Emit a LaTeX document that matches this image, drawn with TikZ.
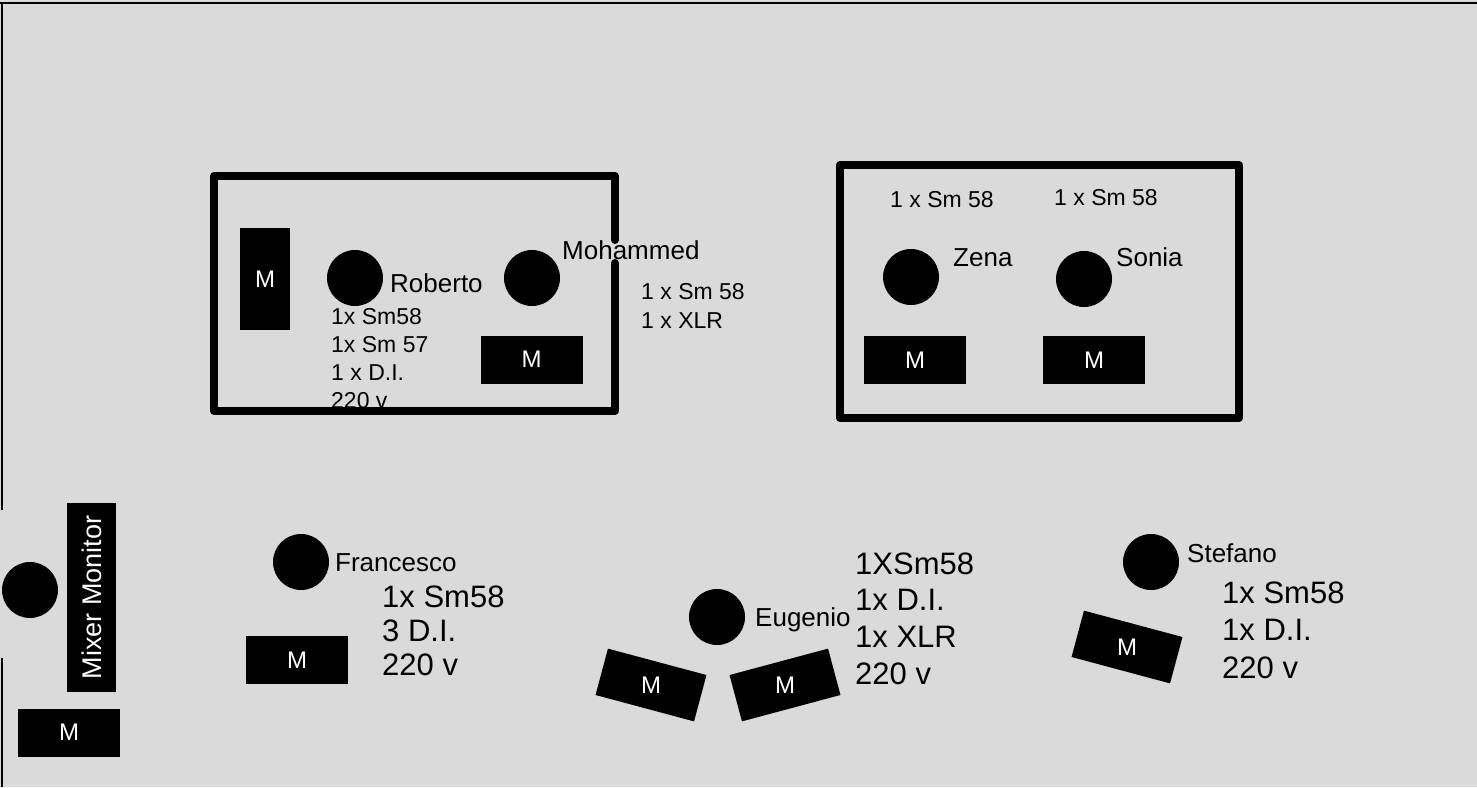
\documentclass[tikz,border=0pt]{standalone}
\usepackage{fontspec}
\setmainfont{Liberation Sans}
\usepackage{tikz}
\definecolor{fondo}{RGB}{218,218,218}

\begin{document}
\begin{tikzpicture}[x=1pt,y=-1pt,
	muro/.style={line width=8pt, line cap=round, line join=round},
	persona/.style={circle, fill=black, minimum size=56pt, inner sep=0pt},
	scatola/.style={fill=black, inner sep=0pt, minimum width=102pt, minimum height=48pt},
	monitor/.style={scatola, text=white, font=\fontsize{24}{28}\selectfont},
	lettera/.style={text=white, inner sep=0pt, font=\fontsize{24}{28}\selectfont},
	piccolo/.style={anchor=west, inner sep=0pt, text height=16.5pt, text depth=0pt, font=\fontsize{23}{27}\selectfont},
	medio/.style={anchor=west, inner sep=0pt, text height=18.6pt, text depth=0pt, font=\fontsize{26}{30}\selectfont},
	grande/.style={anchor=west, inner sep=0pt, text height=22.2pt, text depth=0pt, font=\fontsize{31}{36}\selectfont}]
		%Fondo e cornice
		\fill [fondo] (0,0) rectangle (1477,787);
		\useasboundingbox (0,0) rectangle (1477,787);
		\draw [line width=2.5pt] (0,3) -- (1477,3);
		\draw [line width=2.5pt] (2,3) -- (2,510) (2,658) -- (2,787);
		%Sala 1
		\node [monitor, minimum width=50pt, minimum height=102pt] (mrob) at (265,279) {M};
		\node [persona] (rob) at (355,278) {};
		\node [medio] (trob) at (390,283) {Roberto};
		\foreach \t [count=\i] in {1x Sm58,1x Sm 57,1 x D.I.,220 v}
			\node [piccolo] (rob\i) at (331,{316+28*(\i-1)}) {\t};
		\node [persona] (moh) at (532,278) {};
		\node [medio] (tmoh) at (562,250) {Mohammed};
		\node [monitor] (mmoh) at (531.5,359.5) {M};
		\node [piccolo] (moh1) at (641,291) {1 x Sm 58};
		\node [piccolo] (moh2) at (641,320) {1 x XLR};
		\draw [muro] (615,240) -- (615,176) -- (214,176) -- (214,411) -- (615,411) -- (615,263);
		%Sala 2
		\draw [muro] (840,165) rectangle (1239,418);
		\node [piccolo] (zen1) at (890,199) {1 x Sm 58};
		\node [piccolo] (son1) at (1054,197) {1 x Sm 58};
		\node [persona] (zen) at (911,277) {};
		\node [medio] (tzen) at (953,257) {Zena};
		\node [persona] (son) at (1084,279) {};
		\node [medio] (tson) at (1116,257) {Sonia};
		\node [monitor] (mzen) at (915,360) {M};
		\node [monitor] (mson) at (1094,360) {M};
		%Mixer monitor
		\node [persona] (mix) at (30,590) {};
		\node [monitor, rotate=90, minimum width=189pt, minimum height=49pt, font=\fontsize{27}{31}\selectfont] (tmix) at (91.5,597.5) {Mixer Monitor};
		\node [monitor] (mmix) at (69,732.5) {M};
		%Francesco
		\node [persona] (fra) at (301,562) {};
		\node [medio] (tfra) at (335,562) {Francesco};
		\node [monitor] (mfra) at (297,660) {M};
		\foreach \t [count=\i] in {1x Sm58,3 D.I.,220 v}
			\node [grande] (fra\i) at (382,{596+34*(\i-1)}) {\t};
		%Eugenio
		\node [persona] (eug) at (717,617) {};
		\node [medio] (teug) at (755,617) {Eugenio};
		\node [scatola, rotate=-15] (meu1) at (651,685) {};
		\node [lettera] at (meu1) {M};
		\node [scatola, rotate=15] (meu2) at (785,685) {};
		\node [lettera] at (meu2) {M};
		\foreach \t [count=\i] in {1XSm58,1x D.I.,1x XLR,220 v}
			\node [grande] (eug\i) at (855,{563+36.7*(\i-1)}) {\t};
		%Stefano
		\node [persona] (ste) at (1151,562) {};
		\node [medio] (tste) at (1187,553) {Stefano};
		\node [scatola, rotate=-15] (mste) at (1127,647) {};
		\node [lettera] at (mste) {M};
		\foreach \t [count=\i] in {1x Sm58,1x D.I.,220 v}
			\node [grande] (ste\i) at (1222,{592+37.5*(\i-1)}) {\t};
	\end{tikzpicture}
\end{document}
